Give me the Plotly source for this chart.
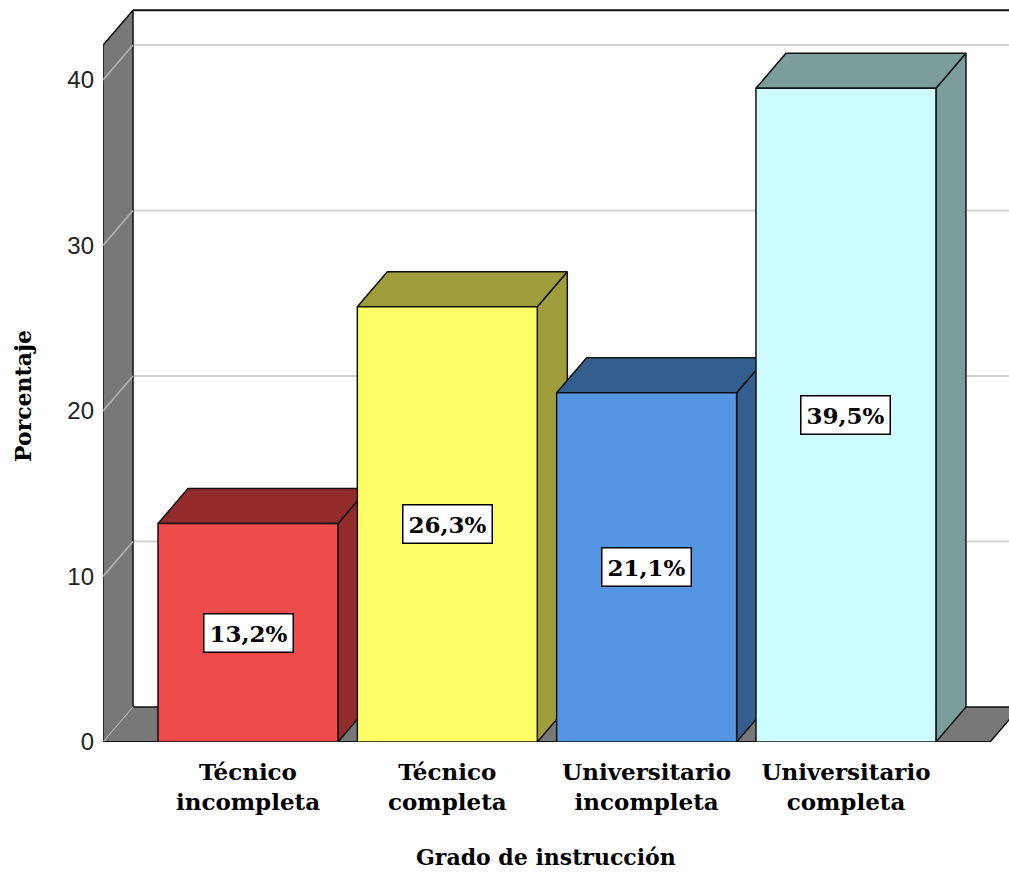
import plotly.graph_objects as go

# Data
categories = ["Técnico<br>incompleta", "Técnico<br>completa",
              "Universitario<br>incompleta", "Universitario<br>completa"]
percentages = [13.2, 26.3, 21.1, 39.5]
y_ticks = [0, 10, 20, 30, 40]

# Styling
front_colors = ["#ee4b4b", "#ffff66", "#5596e4", "#ccfcff"]
shade_colors = ["#932b2d", "#a09d3c", "#345e8e", "#7b9e9b"]
wall_gray = "#787878"
edge = "#111111"
serif = "DejaVu Serif"
sans = "Liberation Sans"

BAR_W = 0.903          # bar width in category units
DX, DY = 0.1505, 2.115  # depth offset of the 3D box (x units, y units)
X0 = -0.7275           # front-left corner of the box
X_RIGHT = 3.818
FLOOR_RIGHT = 3.723
WALL_TOP = 42.1
Y_MAX = 44.834
PLOT_L, PLOT_W, PLOT_H = 103, 906, 742

fig = go.Figure()


def poly(xs, ys, fill, line_color=edge, width=1.5):
    fig.add_trace(go.Scatter(
        x=xs + [xs[0]], y=ys + [ys[0]], mode="lines", fill="toself",
        fillcolor=fill, line=dict(color=line_color, width=width),
        hoverinfo="skip", showlegend=False))


def seg(xs, ys, color, width=1.5):
    fig.add_trace(go.Scatter(
        x=xs, y=ys, mode="lines", line=dict(color=color, width=width),
        hoverinfo="skip", showlegend=False))


# Back wall gridlines
for v in y_ticks[1:]:
    seg([X0 + DX, X_RIGHT + 0.2], [v + DY, v + DY], "#d2d2d2", 2)

# Back wall frame: top edge
seg([X0 + DX, X_RIGHT + 0.2], [WALL_TOP + DY, WALL_TOP + DY], edge, 2)

# Left side wall
poly([X0, X0, X0 + DX, X0 + DX], [0, WALL_TOP, WALL_TOP + DY, DY], wall_gray)
for v in y_ticks:
    seg([X0, X0 + DX], [v, v + DY], "#b4b4b4", 1.5)

# Floor
poly([X0, FLOOR_RIGHT, FLOOR_RIGHT + DX, X0 + DX], [0, 0, DY, DY], wall_gray)
seg([X0, X0 + DX], [0, DY], "#b4b4b4", 1.5)
seg([X0, FLOOR_RIGHT], [0, 0], edge, 2)

# Bars: side face, top face, then front face
for i, v in enumerate(percentages):
    xl = i - BAR_W / 2
    xr = i + BAR_W / 2
    poly([xr, xr, xr + DX, xr + DX], [0, v, v + DY, DY], shade_colors[i])
    poly([xl, xr, xr + DX, xl + DX], [v, v, v + DY, v + DY], shade_colors[i])
    poly([xl, xr, xr, xl], [0, 0, v, v], front_colors[i])
    fig.add_annotation(
        x=i, y=v / 2, xref="x", yref="y",
        text=f"{v:.1f}%".replace(".", ","), showarrow=False,
        font=dict(family=serif, size=23, color="black", weight="bold"),
        bgcolor="white", bordercolor="black", borderwidth=1.5, borderpad=5)

# Axis titles
fig.add_annotation(
    x=(23 - PLOT_L) / PLOT_W, y=1 - 396 / PLOT_H, xref="paper", yref="paper",
    xanchor="center", yanchor="middle",
    text="Porcentaje", textangle=-90, showarrow=False,
    font=dict(family=serif, size=22, color="black", weight="bold"))
fig.add_annotation(
    x=(546 - PLOT_L) / PLOT_W, y=1 - 857 / PLOT_H, xref="paper", yref="paper",
    xanchor="center", yanchor="middle",
    text="Grado de instrucción", showarrow=False,
    font=dict(family=serif, size=22, color="black", weight="bold"))

fig.update_layout(
    width=1009, height=872,
    margin=dict(l=PLOT_L, r=0, t=0, b=130),
    paper_bgcolor="white", plot_bgcolor="white",
    xaxis=dict(range=[X0, X_RIGHT], tickvals=list(range(len(categories))),
               ticktext=categories, showgrid=False, zeroline=False,
               showline=False, ticks="", ticklabelstandoff=14,
               tickfont=dict(family=serif, size=23, color="black", weight="bold")),
    yaxis=dict(range=[0, Y_MAX], tickvals=y_ticks, showgrid=False,
               zeroline=False, showline=False, ticks="",
               ticklabelstandoff=8,
               tickfont=dict(family=sans, size=24, color="#222222")),
)

fig.write_html("out.html")
